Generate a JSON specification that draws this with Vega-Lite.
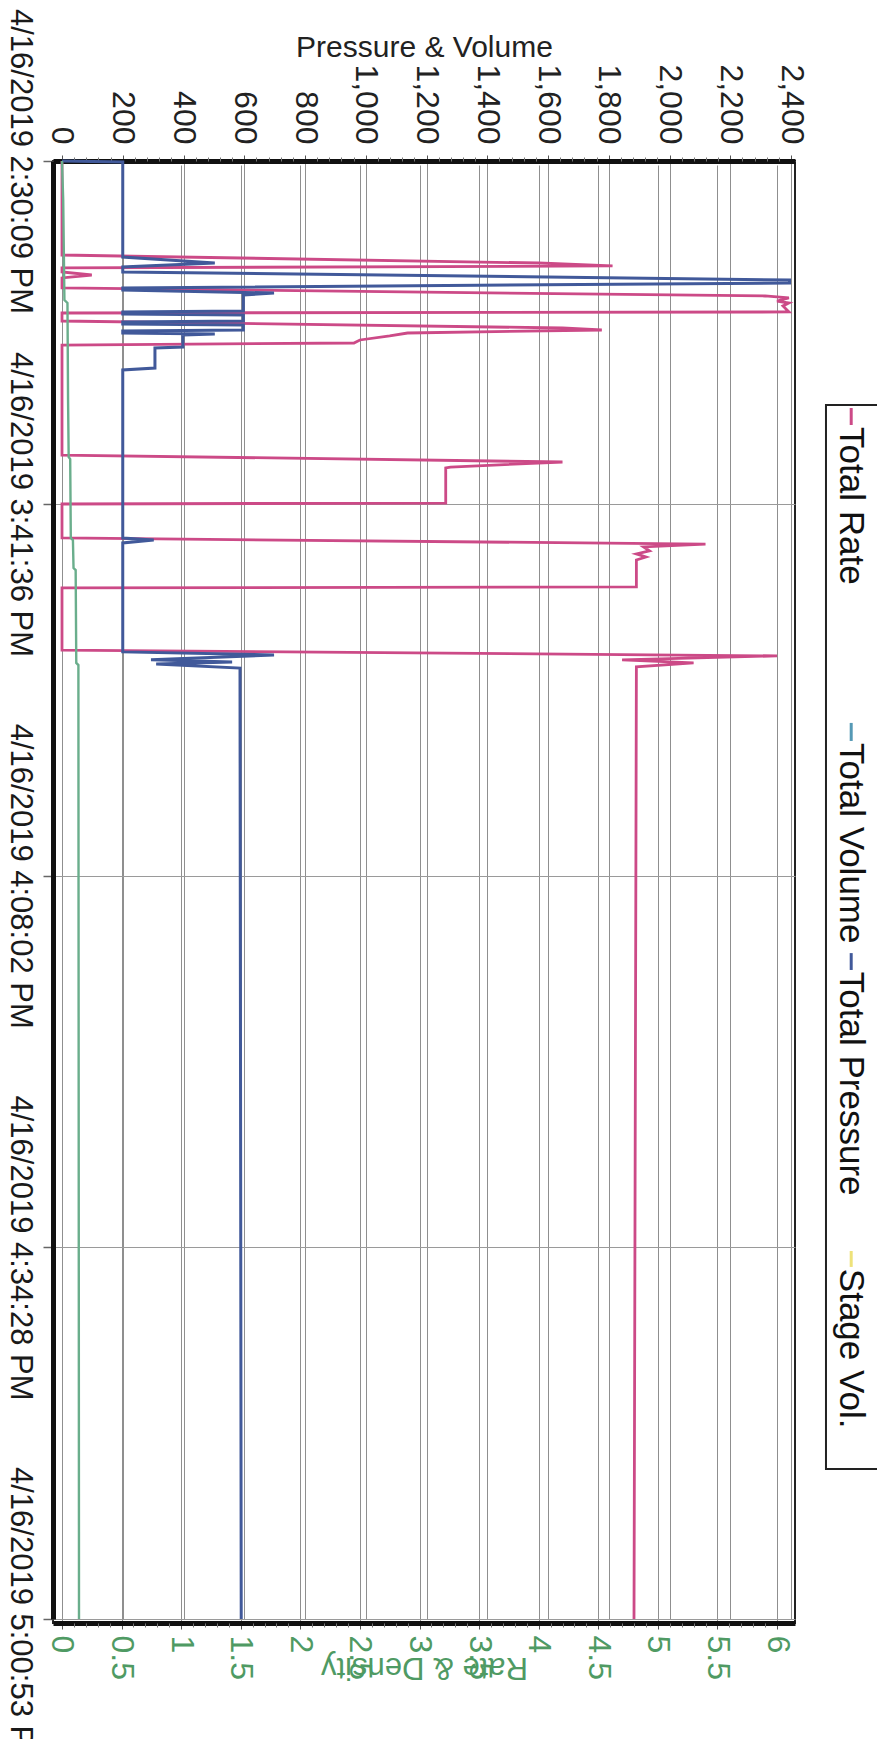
{
  "$schema": "https://vega.github.io/schema/vega-lite/v6.json",
  "width": 742,
  "height": 1462,
  "autosize": {"type": "none"},
  "padding": {"left": 53, "top": 161, "right": 82, "bottom": 116},
  "background": "white",
  "config": {
    "font": "Liberation Sans",
    "view": {"stroke": "#222", "strokeWidth": 2},
    "axis": {"labelFont": "Liberation Sans", "titleFont": "Liberation Sans", "titleFontWeight": "normal"}
  },
  "datasets": {
    "d": [
      {"elapsed_s": 0, "series": "Total Rate", "value": 0},
      {"elapsed_s": 1175, "series": "Total Rate", "value": 0},
      {"elapsed_s": 1275, "series": "Total Rate", "value": 4.0},
      {"elapsed_s": 1312, "series": "Total Rate", "value": 4.62},
      {"elapsed_s": 1337, "series": "Total Rate", "value": 0},
      {"elapsed_s": 1387, "series": "Total Rate", "value": 0},
      {"elapsed_s": 1425, "series": "Total Rate", "value": 0.25},
      {"elapsed_s": 1462, "series": "Total Rate", "value": 0},
      {"elapsed_s": 1587, "series": "Total Rate", "value": 0},
      {"elapsed_s": 1687, "series": "Total Rate", "value": 5.9},
      {"elapsed_s": 1712, "series": "Total Rate", "value": 6.1},
      {"elapsed_s": 1750, "series": "Total Rate", "value": 6.0},
      {"elapsed_s": 1775, "series": "Total Rate", "value": 6.1},
      {"elapsed_s": 1812, "series": "Total Rate", "value": 6.05},
      {"elapsed_s": 1887, "series": "Total Rate", "value": 6.1},
      {"elapsed_s": 1900, "series": "Total Rate", "value": 0},
      {"elapsed_s": 2000, "series": "Total Rate", "value": 0},
      {"elapsed_s": 2087, "series": "Total Rate", "value": 4.2},
      {"elapsed_s": 2112, "series": "Total Rate", "value": 4.53},
      {"elapsed_s": 2150, "series": "Total Rate", "value": 2.9},
      {"elapsed_s": 2187, "series": "Total Rate", "value": 2.75},
      {"elapsed_s": 2237, "series": "Total Rate", "value": 2.5},
      {"elapsed_s": 2275, "series": "Total Rate", "value": 2.45},
      {"elapsed_s": 2300, "series": "Total Rate", "value": 0},
      {"elapsed_s": 3675, "series": "Total Rate", "value": 0},
      {"elapsed_s": 3762, "series": "Total Rate", "value": 4.2},
      {"elapsed_s": 3825, "series": "Total Rate", "value": 3.26},
      {"elapsed_s": 3837, "series": "Total Rate", "value": 3.22},
      {"elapsed_s": 4275, "series": "Total Rate", "value": 3.22},
      {"elapsed_s": 4287, "series": "Total Rate", "value": 0},
      {"elapsed_s": 4432, "series": "Total Rate", "value": 0},
      {"elapsed_s": 4458, "series": "Total Rate", "value": 5.4},
      {"elapsed_s": 4470, "series": "Total Rate", "value": 4.88},
      {"elapsed_s": 4487, "series": "Total Rate", "value": 4.93},
      {"elapsed_s": 4500, "series": "Total Rate", "value": 4.82},
      {"elapsed_s": 4513, "series": "Total Rate", "value": 4.9},
      {"elapsed_s": 4526, "series": "Total Rate", "value": 4.82},
      {"elapsed_s": 4641, "series": "Total Rate", "value": 4.82},
      {"elapsed_s": 4645, "series": "Total Rate", "value": 0},
      {"elapsed_s": 4910, "series": "Total Rate", "value": 0},
      {"elapsed_s": 4935, "series": "Total Rate", "value": 6.0},
      {"elapsed_s": 4952, "series": "Total Rate", "value": 4.7},
      {"elapsed_s": 4965, "series": "Total Rate", "value": 5.3},
      {"elapsed_s": 4982, "series": "Total Rate", "value": 4.82},
      {"elapsed_s": 9044, "series": "Total Rate", "value": 4.8},

      {"elapsed_s": 0, "series": "Total Pressure", "value": 0},
      {"elapsed_s": 13, "series": "Total Pressure", "value": 200},
      {"elapsed_s": 1200, "series": "Total Pressure", "value": 200},
      {"elapsed_s": 1275, "series": "Total Pressure", "value": 503},
      {"elapsed_s": 1325, "series": "Total Pressure", "value": 200},
      {"elapsed_s": 1387, "series": "Total Pressure", "value": 200},
      {"elapsed_s": 1487, "series": "Total Pressure", "value": 2395},
      {"elapsed_s": 1525, "series": "Total Pressure", "value": 2395},
      {"elapsed_s": 1587, "series": "Total Pressure", "value": 200},
      {"elapsed_s": 1612, "series": "Total Pressure", "value": 200},
      {"elapsed_s": 1650, "series": "Total Pressure", "value": 698},
      {"elapsed_s": 1675, "series": "Total Pressure", "value": 597},
      {"elapsed_s": 1875, "series": "Total Pressure", "value": 597},
      {"elapsed_s": 1887, "series": "Total Pressure", "value": 200},
      {"elapsed_s": 1912, "series": "Total Pressure", "value": 200},
      {"elapsed_s": 1925, "series": "Total Pressure", "value": 597},
      {"elapsed_s": 2000, "series": "Total Pressure", "value": 597},
      {"elapsed_s": 2012, "series": "Total Pressure", "value": 200},
      {"elapsed_s": 2037, "series": "Total Pressure", "value": 200},
      {"elapsed_s": 2050, "series": "Total Pressure", "value": 597},
      {"elapsed_s": 2112, "series": "Total Pressure", "value": 597},
      {"elapsed_s": 2125, "series": "Total Pressure", "value": 200},
      {"elapsed_s": 2150, "series": "Total Pressure", "value": 200},
      {"elapsed_s": 2162, "series": "Total Pressure", "value": 503},
      {"elapsed_s": 2175, "series": "Total Pressure", "value": 398},
      {"elapsed_s": 2325, "series": "Total Pressure", "value": 398},
      {"elapsed_s": 2337, "series": "Total Pressure", "value": 306},
      {"elapsed_s": 2587, "series": "Total Pressure", "value": 306},
      {"elapsed_s": 2612, "series": "Total Pressure", "value": 200},
      {"elapsed_s": 4432, "series": "Total Pressure", "value": 200},
      {"elapsed_s": 4441, "series": "Total Pressure", "value": 302},
      {"elapsed_s": 4453, "series": "Total Pressure", "value": 200},
      {"elapsed_s": 4918, "series": "Total Pressure", "value": 200},
      {"elapsed_s": 4931, "series": "Total Pressure", "value": 698},
      {"elapsed_s": 4952, "series": "Total Pressure", "value": 293},
      {"elapsed_s": 4961, "series": "Total Pressure", "value": 560},
      {"elapsed_s": 4970, "series": "Total Pressure", "value": 310},
      {"elapsed_s": 4987, "series": "Total Pressure", "value": 586},
      {"elapsed_s": 9044, "series": "Total Pressure", "value": 590},

      {"elapsed_s": 0, "series": "Total Volume", "value": 0},
      {"elapsed_s": 487, "series": "Total Volume", "value": 4},
      {"elapsed_s": 1737, "series": "Total Volume", "value": 8},
      {"elapsed_s": 1775, "series": "Total Volume", "value": 18},
      {"elapsed_s": 2987, "series": "Total Volume", "value": 20},
      {"elapsed_s": 3700, "series": "Total Volume", "value": 22},
      {"elapsed_s": 3725, "series": "Total Volume", "value": 27},
      {"elapsed_s": 4432, "series": "Total Volume", "value": 29},
      {"elapsed_s": 4441, "series": "Total Volume", "value": 36},
      {"elapsed_s": 4560, "series": "Total Volume", "value": 38},
      {"elapsed_s": 4569, "series": "Total Volume", "value": 45},
      {"elapsed_s": 4965, "series": "Total Volume", "value": 47},
      {"elapsed_s": 4974, "series": "Total Volume", "value": 54},
      {"elapsed_s": 9044, "series": "Total Volume", "value": 56}
    ],
    "one": [{}]
  },
  "resolve": {"scale": {"x": "independent"}},
  "layer": [
    {
      "data": {"name": "d"},
      "transform": [{"filter": "datum.series === 'Total Rate'"}],
      "mark": {"type": "line", "strokeWidth": 2.8, "color": "#cc4a87"},
      "encoding": {
        "x": {"field": "value", "type": "quantitative",
          "scale": {"domain": [-0.0755, 6.151], "nice": false, "zero": false},
          "axis": {"orient": "bottom", "values": [0, 0.5, 1, 1.5, 2, 2.5, 3, 3.5, 4, 4.5, 5, 5.5, 6], "labelExpr": "format(datum.value, '~g')",
            "labelAngle": 90, "labelAlign": "left", "labelBaseline": "middle", "labelFontSize": 32, "labelColor": "#4f9a63",
            "labelPadding": 6, "labelFlush": false, "labelOverlap": false, "tickSize": 6, "tickColor": "#555",
            "domainColor": "#111", "domainWidth": 5, "grid": true, "gridColor": "#8f8f8f", "gridWidth": 1,
            "title": "Rate & Density", "titleAngle": 180, "titleFontSize": 31, "titleColor": "#4f9a63", "titlePadding": 2}},
        "y": {"field": "elapsed_s", "type": "quantitative",
          "scale": {"domain": [0, 4287, 9044], "range": [0, 343, 1458], "nice": false, "zero": false},
          "axis": {"orient": "left", "values": [0, 4287, 5873, 7459, 9044],
            "labelExpr": "'4/16/2019 ' + timeFormat(datetime(2019, 3, 16, 14, 30, 9 + datum.value), '%-I:%M:%S %p')",
            "labelAngle": 90, "labelAlign": "center", "labelBaseline": "top", "labelLimit": 0,
            "labelFontSize": 31, "labelColor": "#1a1a1a", "labelPadding": 9, "labelOverlap": false, "labelFlush": false,
            "tickSize": 10, "tickColor": "#666", "tickWidth": 1.5, "domainColor": "#111", "domainWidth": 5,
            "grid": true, "gridColor": "#9a9a9a", "gridWidth": 1.2, "title": null}},
        "order": {"field": "elapsed_s", "type": "quantitative"}
      }
    },
    {
      "data": {"name": "d"},
      "transform": [{"filter": "datum.series === 'Total Pressure'"}],
      "mark": {"type": "line", "strokeWidth": 3, "color": "#41599a"},
      "encoding": {
        "x": {"field": "value", "type": "quantitative",
          "scale": {"domain": [-29.6, 2413], "nice": false, "zero": false},
          "axis": {"orient": "top", "values": [0, 200, 400, 600, 800, 1000, 1200, 1400, 1600, 1800, 2000, 2200, 2400], "labelExpr": "format(datum.value, ',')",
            "labelAngle": 90, "labelAlign": "right", "labelBaseline": "middle", "labelFontSize": 32, "labelColor": "#222",
            "labelPadding": 11, "labelFlush": false, "labelOverlap": false, "tickSize": 6, "tickColor": "#555",
            "domainColor": "#111", "domainWidth": 5, "grid": true, "gridColor": "#8f8f8f", "gridWidth": 1,
            "title": "Pressure & Volume", "titleFontSize": 30, "titleColor": "#222", "titlePadding": 1}},
        "y": {"field": "elapsed_s", "type": "quantitative",
          "scale": {"domain": [0, 4287, 9044], "range": [0, 343, 1458], "nice": false, "zero": false}},
        "order": {"field": "elapsed_s", "type": "quantitative"}
      }
    },
    {
      "data": {"name": "d"},
      "transform": [{"filter": "datum.series === 'Total Volume'"}],
      "mark": {"type": "line", "strokeWidth": 2.4, "color": "#6aae8c"},
      "encoding": {
        "x": {"field": "value", "type": "quantitative",
          "scale": {"domain": [-29.6, 2413], "nice": false, "zero": false},
          "axis": {"orient": "top", "values": [40, 80, 120, 160, 240, 280, 320, 360, 440, 480, 520, 560, 640, 680, 720, 760, 840, 880, 920, 960, 1040, 1080, 1120, 1160, 1240, 1280, 1320, 1360, 1440, 1480, 1520, 1560, 1640, 1680, 1720, 1760, 1840, 1880, 1920, 1960, 2040, 2080, 2120, 2160, 2240, 2280, 2320, 2360],
            "labels": false, "domain": false, "grid": false, "tickSize": 4, "tickColor": "#777", "title": null}},
        "y": {"field": "elapsed_s", "type": "quantitative",
          "scale": {"domain": [0, 4287, 9044], "range": [0, 343, 1458], "nice": false, "zero": false}},
        "order": {"field": "elapsed_s", "type": "quantitative"}
      }
    },
    {
      "data": {"name": "one"},
      "mark": {"type": "rect", "fill": "white", "stroke": "#222", "strokeWidth": 2},
      "encoding": {
        "x": {"datum": 6.411, "type": "quantitative", "scale": {"domain": [-0.0755, 6.151], "nice": false, "zero": false},
          "axis": {"orient": "bottom", "values": [0.1, 0.2, 0.3, 0.4, 0.6, 0.7, 0.8, 0.9, 1.1, 1.2, 1.3, 1.4, 1.6, 1.7, 1.8, 1.9, 2.1, 2.2, 2.3, 2.4, 2.6, 2.7, 2.8, 2.9, 3.1, 3.2, 3.3, 3.4, 3.6, 3.7, 3.8, 3.9, 4.1, 4.2, 4.3, 4.4, 4.6, 4.7, 4.8, 4.9, 5.1, 5.2, 5.3, 5.4, 5.6, 5.7, 5.8, 5.9],
            "labels": false, "domain": false, "grid": false, "tickSize": 4, "tickColor": "#777", "title": null}},
        "x2": {"datum": 7.03},
        "y": {"datum": 3050, "type": "quantitative", "scale": {"domain": [0, 4287, 9044], "range": [0, 343, 1458], "nice": false, "zero": false}},
        "y2": {"datum": 8404}
      }
    },
    {
      "data": {"name": "one"},
      "mark": {"type": "rule", "strokeWidth": 3, "color": "#cc4a87"},
      "encoding": {
        "x": {"datum": 2598, "type": "quantitative", "scale": {"domain": [-29.6, 2413], "nice": false, "zero": false}, "axis": null},
        "y": {"datum": 3087, "type": "quantitative", "scale": {"domain": [0, 4287, 9044], "range": [0, 343, 1458], "nice": false, "zero": false}},
        "y2": {"datum": 3300}
      }
    },
    {
      "data": {"name": "one"},
      "mark": {"type": "rule", "strokeWidth": 3, "color": "#5599b5"},
      "encoding": {
        "x": {"datum": 2598, "type": "quantitative", "scale": {"domain": [-29.6, 2413], "nice": false, "zero": false}, "axis": null},
        "y": {"datum": 5221, "type": "quantitative", "scale": {"domain": [0, 4287, 9044], "range": [0, 343, 1458], "nice": false, "zero": false}},
        "y2": {"datum": 5298}
      }
    },
    {
      "data": {"name": "one"},
      "mark": {"type": "rule", "strokeWidth": 3, "color": "#41599a"},
      "encoding": {
        "x": {"datum": 2598, "type": "quantitative", "scale": {"domain": [-29.6, 2413], "nice": false, "zero": false}, "axis": null},
        "y": {"datum": 6203, "type": "quantitative", "scale": {"domain": [0, 4287, 9044], "range": [0, 343, 1458], "nice": false, "zero": false}},
        "y2": {"datum": 6275}
      }
    },
    {
      "data": {"name": "one"},
      "mark": {"type": "rule", "strokeWidth": 3, "color": "#eee27a"},
      "encoding": {
        "x": {"datum": 2598, "type": "quantitative", "scale": {"domain": [-29.6, 2413], "nice": false, "zero": false}, "axis": null},
        "y": {"datum": 7474, "type": "quantitative", "scale": {"domain": [0, 4287, 9044], "range": [0, 343, 1458], "nice": false, "zero": false}},
        "y2": {"datum": 7542}
      }
    },
    {
      "data": {"name": "one"},
      "mark": {"type": "text", "angle": 90, "align": "left", "baseline": "middle", "fontSize": 35, "font": "Liberation Sans", "color": "#111"},
      "encoding": {
        "x": {"datum": 2598, "type": "quantitative", "scale": {"domain": [-29.6, 2413], "nice": false, "zero": false}, "axis": null},
        "y": {"datum": 3325, "type": "quantitative", "scale": {"domain": [0, 4287, 9044], "range": [0, 343, 1458], "nice": false, "zero": false}},
        "text": {"value": "Total Rate"}
      }
    },
    {
      "data": {"name": "one"},
      "mark": {"type": "text", "angle": 90, "align": "left", "baseline": "middle", "fontSize": 35, "font": "Liberation Sans", "color": "#111"},
      "encoding": {
        "x": {"datum": 2598, "type": "quantitative", "scale": {"domain": [-29.6, 2413], "nice": false, "zero": false}, "axis": null},
        "y": {"datum": 5307, "type": "quantitative", "scale": {"domain": [0, 4287, 9044], "range": [0, 343, 1458], "nice": false, "zero": false}},
        "text": {"value": "Total Volume"}
      }
    },
    {
      "data": {"name": "one"},
      "mark": {"type": "text", "angle": 90, "align": "left", "baseline": "middle", "fontSize": 35, "font": "Liberation Sans", "color": "#111"},
      "encoding": {
        "x": {"datum": 2598, "type": "quantitative", "scale": {"domain": [-29.6, 2413], "nice": false, "zero": false}, "axis": null},
        "y": {"datum": 6283, "type": "quantitative", "scale": {"domain": [0, 4287, 9044], "range": [0, 343, 1458], "nice": false, "zero": false}},
        "text": {"value": "Total Pressure"}
      }
    },
    {
      "data": {"name": "one"},
      "mark": {"type": "text", "angle": 90, "align": "left", "baseline": "middle", "fontSize": 35, "font": "Liberation Sans", "color": "#111"},
      "encoding": {
        "x": {"datum": 2598, "type": "quantitative", "scale": {"domain": [-29.6, 2413], "nice": false, "zero": false}, "axis": null},
        "y": {"datum": 7550, "type": "quantitative", "scale": {"domain": [0, 4287, 9044], "range": [0, 343, 1458], "nice": false, "zero": false}},
        "text": {"value": "Stage Vol."}
      }
    }
  ]
}
